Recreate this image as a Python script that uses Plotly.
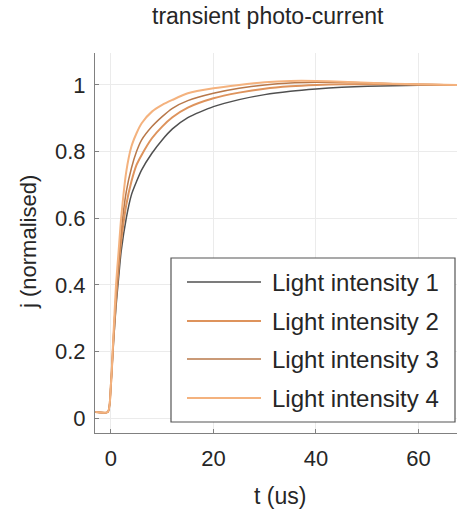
import plotly.graph_objects as go

# time axis (us) and normalised photo-current for four light intensities
t = [-3, -0.6, 0, 0.5, 1, 1.5, 2, 3, 4, 5, 6, 8, 10, 12, 15, 20, 25, 30, 35, 40, 45, 50, 55, 60, 65, 68]
j1 = [0.018, 0.018, 0.1, 0.225, 0.335, 0.42, 0.5, 0.6, 0.67, 0.71, 0.745, 0.795, 0.835, 0.868, 0.902, 0.935, 0.956, 0.971, 0.981, 0.988, 0.993, 0.996, 0.998, 0.999, 1.0, 1.0]
j2 = [0.018, 0.018, 0.1, 0.235, 0.355, 0.45, 0.53, 0.64, 0.71, 0.76, 0.79, 0.84, 0.875, 0.903, 0.932, 0.96, 0.977, 0.989, 0.996, 1.0, 1.002, 1.002, 1.002, 1.001, 1.0, 1.0]
j3 = [0.018, 0.018, 0.1, 0.24, 0.375, 0.47, 0.56, 0.68, 0.75, 0.8, 0.835, 0.875, 0.905, 0.93, 0.953, 0.975, 0.99, 1.0, 1.006, 1.008, 1.008, 1.006, 1.004, 1.002, 1.001, 1.0]
j4 = [0.018, 0.018, 0.1, 0.25, 0.4, 0.5, 0.6, 0.74, 0.815, 0.855, 0.885, 0.92, 0.94, 0.955, 0.975, 0.99, 1.0, 1.008, 1.012, 1.012, 1.01, 1.007, 1.004, 1.002, 1.001, 1.0]

names = ["Light intensity 1", "Light intensity 2", "Light intensity 3", "Light intensity 4"]
series = [j1, j2, j3, j4]
colors = ["#505050", "#de935c", "#b8784a", "#f4b27e"]
widths = [1.5, 2.0, 1.5, 2.0]

x_ticks = [0, 20, 40, 60]
y_ticks = [0, 0.2, 0.4, 0.6, 0.8, 1]
y_tick_text = ["0", "0.2", "0.4", "0.6", "0.8", "1"]

W, H = 457, 510
L, R, T, B = 95, 0, 53, 77
PW, PH = W - L - R, H - T - B

FONT = "Liberation Sans, Arial, Helvetica, sans-serif"
TXT = "#262626"


def px(xp):
    return (xp - L) / PW


def py(yp):
    return (H - B - yp) / PH


fig = go.Figure()
for name, y, c, w in zip(names, series, colors, widths):
    fig.add_trace(go.Scatter(x=t, y=y, name=name, mode="lines",
                             line=dict(color=c, width=w, shape="spline", smoothing=0.6),
                             showlegend=False))

axis_common = dict(showline=True, linecolor="#808080", linewidth=1, mirror=False,
                   ticks="inside", ticklen=4, tickcolor="#808080",
                   showgrid=True, gridcolor="#ebebeb", gridwidth=1, zeroline=False,
                   tickfont=dict(family=FONT, size=22, color=TXT))

fig.update_layout(
    width=W, height=H, margin=dict(l=L, r=R, t=T, b=B),
    paper_bgcolor="white", plot_bgcolor="white",
    xaxis=dict(range=[-3.1, 67.5], tickvals=x_ticks, ticklabelstandoff=6, **axis_common),
    yaxis=dict(range=[-0.045, 1.096], tickvals=y_ticks, ticktext=y_tick_text,
               ticklabelstandoff=4, **axis_common),
)

# title
fig.add_annotation(text="transient photo-current", xref="paper", yref="paper", x=px(268), y=py(16),
                   xanchor="center", yanchor="middle", showarrow=False,
                   font=dict(family=FONT, size=23, color=TXT))

# axis labels
fig.add_annotation(text="t (us)", xref="paper", yref="paper", x=px(280), y=py(496),
                   xanchor="center", yanchor="middle", showarrow=False,
                   font=dict(family=FONT, size=23, color=TXT))
fig.add_annotation(text="j (normalised)", xref="paper", yref="paper", x=px(28), y=py(242),
                   xanchor="center", yanchor="middle", textangle=-90, showarrow=False,
                   font=dict(family=FONT, size=22, color=TXT))

# legend box with line samples
fig.add_shape(type="rect", xref="paper", yref="paper", x0=px(171), x1=px(455), y0=py(422), y1=py(258),
              line=dict(color="#555555", width=1.2), fillcolor="white", layer="above")
row_y = [282, 321, 359, 398]
for name, c, w, ry in zip(names, colors, widths, row_y):
    fig.add_shape(type="line", xref="paper", yref="paper", x0=px(187), x1=px(261), y0=py(ry), y1=py(ry),
                  line=dict(color=c, width=w), layer="above")
    fig.add_annotation(text=name, xref="paper", yref="paper", x=px(270), y=py(ry),
                       xanchor="left", yanchor="middle", showarrow=False,
                       font=dict(family=FONT, size=24, color=TXT))

fig.write_html("out.html")
